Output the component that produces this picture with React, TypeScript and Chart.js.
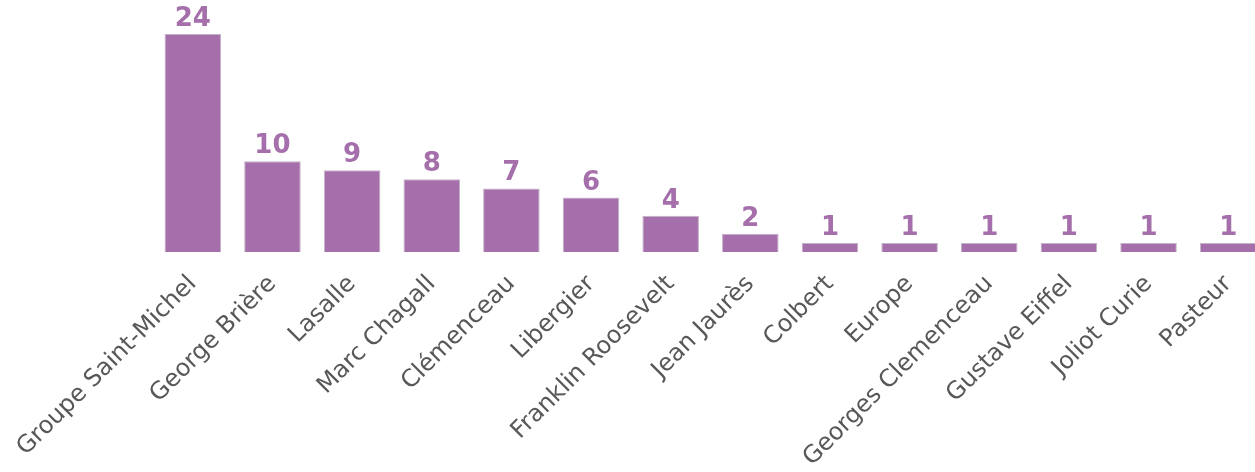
import React, { useEffect, useRef } from "react";
import { Chart, registerables } from "chart.js";

Chart.register(...registerables);

const categories = [
  "Groupe Saint-Michel",
  "George Brière",
  "Lasalle",
  "Marc Chagall",
  "Clémenceau",
  "Libergier",
  "Franklin Roosevelt",
  "Jean Jaurès",
  "Colbert",
  "Europe",
  "Georges Clemenceau",
  "Gustave Eiffel",
  "Joliot Curie",
  "Pasteur",
];
const values = [24, 10, 9, 8, 7, 6, 4, 2, 1, 1, 1, 1, 1, 1];

const BAR_COLOR = "#a56fab";
const LABEL_COLOR = "#a56fab";
const TICK_COLOR = "#585858";

const valueLabels = {
  id: "valueLabels",
  afterDatasetsDraw(chart: any) {
    const ctx = chart.ctx;
    const meta = chart.getDatasetMeta(0);
    ctx.save();
    ctx.fillStyle = LABEL_COLOR;
    ctx.font = "bold 26px 'DejaVu Sans', sans-serif";
    ctx.textAlign = "center";
    ctx.textBaseline = "alphabetic";
    meta.data.forEach((bar: any, i: number) => {
      ctx.fillText(String(chart.data.datasets[0].data[i]), bar.x, bar.y - 8);
    });
    ctx.restore();
  },
};

export default function App() {
  const ref = useRef<HTMLCanvasElement>(null);
  useEffect(() => {
    document.body.style.margin = "0";
    const chart = new Chart(ref.current!, {
      type: "bar",
      data: {
        labels: categories,
        datasets: [
          {
            data: values,
            backgroundColor: BAR_COLOR,
            borderColor: "#c2b2c5",
            borderWidth: 1,
            categoryPercentage: 0.71,
            barPercentage: 1,
          },
        ],
      },
      options: {
        responsive: false,
        animation: false,
        layout: { padding: { left: 153, right: 0, top: 34, bottom: 0 } },
        plugins: { legend: { display: false }, tooltip: { enabled: false } },
        scales: {
          y: { display: false, min: 0, max: 24 },
          x: {
            grid: { display: false },
            border: { display: false },
            ticks: {
              color: TICK_COLOR,
              font: { family: "'DejaVu Sans', sans-serif", size: 24 },
              minRotation: 45,
              maxRotation: 45,
              padding: 10,
              autoSkip: false,
            },
            afterFit: (s: any) => {
              s.height = 220;
              s.paddingLeft = 0;
              s.paddingRight = 0;
            },
          },
        },
      },
      plugins: [valueLabels],
    });
    return () => chart.destroy();
  }, []);
  return (
    <div style={{ width: 1255, height: 472, overflow: "hidden" }}>
      <canvas ref={ref} width={1268} height={472} />
    </div>
  );
}
